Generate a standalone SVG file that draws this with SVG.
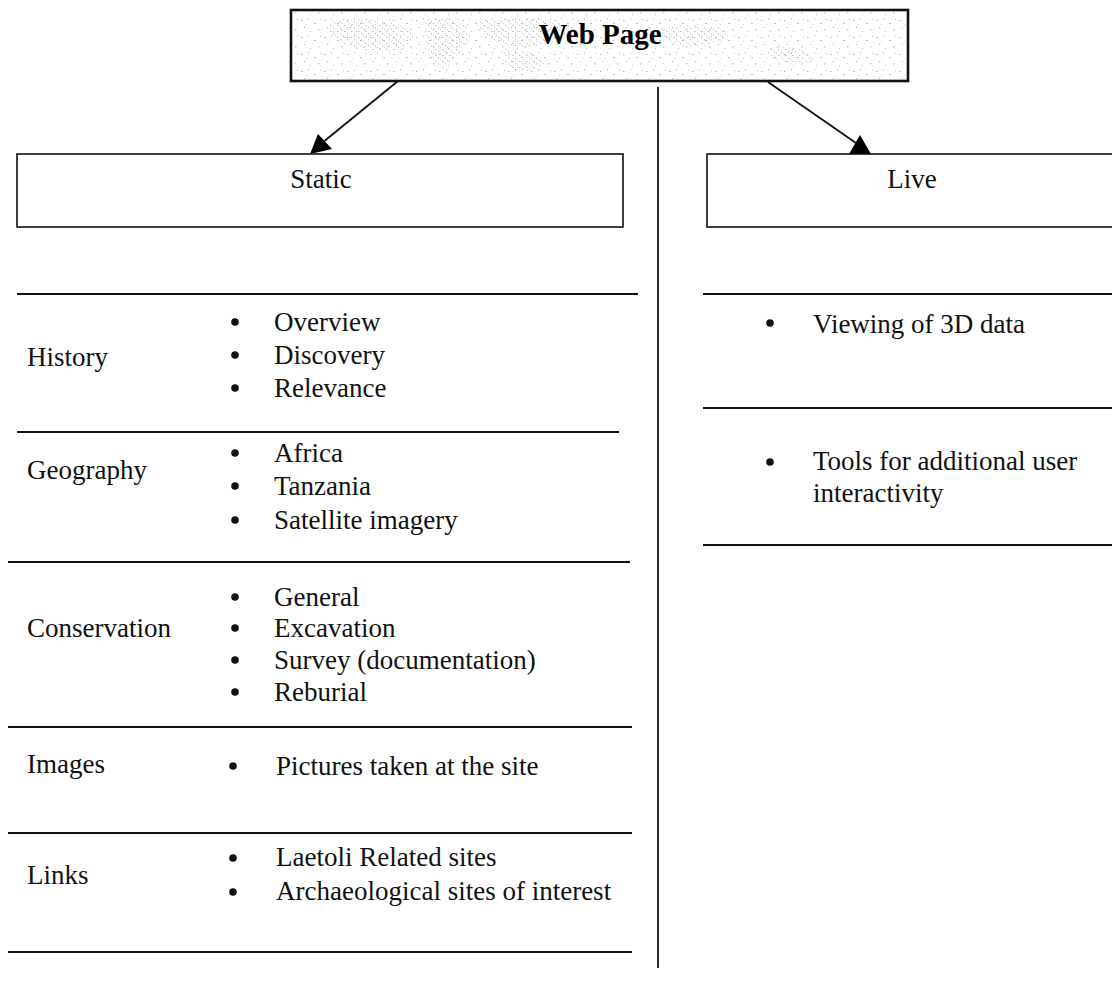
<svg xmlns="http://www.w3.org/2000/svg" width="1112" height="998" viewBox="0 0 1112 998">
  <defs>
    <!-- faint speckle fill for the title box -->
    <pattern id="speckle" width="23" height="17" patternUnits="userSpaceOnUse">
      <rect x="2" y="3" width="1.5" height="1" fill="#9a9a9a"/>
      <rect x="9" y="1" width="1" height="1.5" fill="#b0b0b0"/>
      <rect x="15" y="6" width="2" height="1" fill="#a5a5a5"/>
      <rect x="5" y="10" width="1" height="1" fill="#8f8f8f"/>
      <rect x="19" y="12" width="1.5" height="1.5" fill="#b5b5b5"/>
      <rect x="11" y="14" width="1" height="1" fill="#a0a0a0"/>
      <rect x="7" y="7" width="1" height="1" fill="#c0c0c0"/>
      <rect x="21" y="2" width="1" height="1" fill="#aaaaaa"/>
    </pattern>
    <!-- denser speckle used for the map-like patches -->
    <pattern id="speckle-dense" width="7" height="6" patternUnits="userSpaceOnUse">
      <rect x="1" y="1" width="1.5" height="1" fill="#888"/>
      <rect x="4" y="3" width="1" height="1.5" fill="#999"/>
      <rect x="6" y="5" width="1" height="1" fill="#aaa"/>
    </pattern>
    <style>
      .t { font-family: "Liberation Serif", "Times New Roman", serif; font-size: 27px; fill: #111; }
      .title { font-family: "Liberation Serif", "Times New Roman", serif; font-size: 29px; font-weight: bold; fill: #000; }
      .box { fill: #fff; stroke: #111; stroke-width: 1.6; }
      .rule { stroke: #111; stroke-width: 2; fill: none; }
      .conn { stroke: #111; stroke-width: 1.8; fill: none; }
      .head { fill: #000; }
      .dot { fill: #111; }
      .patch { fill: url(#speckle-dense); opacity: 0.55; }
    </style>
  </defs>

  <rect width="1112" height="998" fill="#fff"/>

  <!-- title node -->
  <g id="web-page">
    <rect x="291" y="10" width="617" height="71" fill="#fff" stroke="#111" stroke-width="2.6"/>
    <rect x="293" y="12" width="613" height="67" fill="url(#speckle)" opacity="0.7"/>
    <path class="patch" d="M330,22 C360,16 395,20 410,30 C420,42 400,55 380,52 C360,50 340,44 330,36 Z"/>
    <path class="patch" d="M425,20 C450,14 470,22 468,36 C466,50 450,62 440,70 C430,64 428,48 425,36 Z"/>
    <path class="patch" d="M478,22 C520,16 560,18 575,28 C570,40 545,46 520,48 C500,46 485,38 478,30 Z"/>
    <path class="patch" d="M500,50 C520,48 540,52 545,62 C540,72 515,74 505,66 Z"/>
    <path class="patch" d="M660,28 C690,22 720,26 730,34 C725,44 700,48 680,46 C668,42 662,36 660,28 Z"/>
    <path class="patch" d="M770,48 C790,44 810,50 812,60 C800,66 780,64 772,58 Z"/>
    <text class="title" x="600" y="44" text-anchor="middle">Web Page</text>
  </g>

  <!-- connectors -->
  <g id="connectors">
    <line class="conn" x1="398" y1="81" x2="322" y2="143"/>
    <polygon class="head" points="310,154 318,134 332,149"/>
    <line class="conn" x1="768" y1="82" x2="856" y2="143"/>
    <polygon class="head" points="849,154 860,135 871,154"/>
    <line class="conn" x1="658" y1="87" x2="658" y2="968"/>
  </g>

  <g id="static">
    <rect class="box" x="17" y="154" width="606" height="73"/>
    <text class="t" x="321" y="188" text-anchor="middle">Static</text>
  </g>

  <g id="live">
    <rect class="box" x="707" y="154" width="420" height="73"/>
    <text class="t" x="912" y="188" text-anchor="middle">Live</text>
  </g>

  <g id="history">
    <line class="rule" x1="17" y1="294" x2="638" y2="294"/>
    <text class="t" x="27" y="366">History</text>
    <circle class="dot" cx="235" cy="322" r="3.8"/>
    <circle class="dot" cx="235" cy="355" r="3.8"/>
    <circle class="dot" cx="235" cy="388" r="3.8"/>
    <text class="t" x="274" y="331">Overview</text>
    <text class="t" x="274" y="364">Discovery</text>
    <text class="t" x="274" y="397">Relevance</text>
  </g>

  <g id="geography">
    <line class="rule" x1="17" y1="432" x2="619" y2="432"/>
    <text class="t" x="27" y="479">Geography</text>
    <circle class="dot" cx="235" cy="453" r="3.8"/>
    <circle class="dot" cx="235" cy="486" r="3.8"/>
    <circle class="dot" cx="235" cy="520" r="3.8"/>
    <text class="t" x="274" y="462">Africa</text>
    <text class="t" x="274" y="495">Tanzania</text>
    <text class="t" x="274" y="529">Satellite imagery</text>
  </g>

  <g id="conservation">
    <line class="rule" x1="8" y1="562" x2="630" y2="562"/>
    <text class="t" x="27" y="637">Conservation</text>
    <circle class="dot" cx="235" cy="597" r="3.8"/>
    <circle class="dot" cx="235" cy="628" r="3.8"/>
    <circle class="dot" cx="235" cy="660" r="3.8"/>
    <circle class="dot" cx="235" cy="692" r="3.8"/>
    <text class="t" x="274" y="606">General</text>
    <text class="t" x="274" y="637">Excavation</text>
    <text class="t" x="274" y="669">Survey (documentation)</text>
    <text class="t" x="274" y="701">Reburial</text>
  </g>

  <g id="images">
    <line class="rule" x1="8" y1="727" x2="632" y2="727"/>
    <text class="t" x="27" y="773">Images</text>
    <circle class="dot" cx="233" cy="766" r="3.8"/>
    <text class="t" x="276" y="775">Pictures taken at the site</text>
  </g>

  <g id="links">
    <line class="rule" x1="8" y1="833" x2="632" y2="833"/>
    <text class="t" x="27" y="884">Links</text>
    <circle class="dot" cx="233" cy="858" r="3.8"/>
    <circle class="dot" cx="233" cy="892" r="3.8"/>
    <text class="t" x="276" y="866">Laetoli Related sites</text>
    <text class="t" x="276" y="900">Archaeological sites of interest</text>
    <line class="rule" x1="8" y1="952" x2="632" y2="952"/>
  </g>

  <g id="viewing">
    <line class="rule" x1="703" y1="294" x2="1112" y2="294"/>
    <circle class="dot" cx="770" cy="323" r="3.8"/>
    <text class="t" x="813" y="333">Viewing of 3D data</text>
  </g>

  <g id="tools">
    <line class="rule" x1="703" y1="408" x2="1112" y2="408"/>
    <circle class="dot" cx="770" cy="462" r="3.8"/>
    <text class="t" x="813" y="470">Tools for additional user</text>
    <text class="t" x="813" y="502">interactivity</text>
    <line class="rule" x1="703" y1="545" x2="1112" y2="545"/>
  </g>
</svg>
